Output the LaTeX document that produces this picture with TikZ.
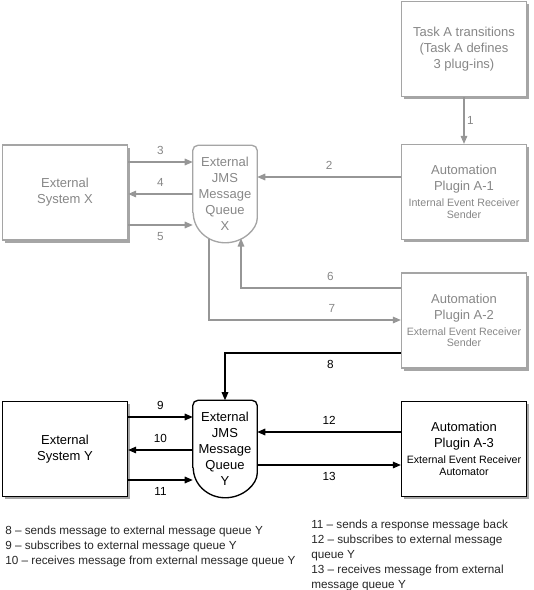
\documentclass[tikz,border=0pt]{standalone}
\usepackage{fontspec}
\setmainfont{Liberation Sans}
\usetikzlibrary{positioning,arrows.meta,shadows}

\definecolor{xline}{RGB}{165,165,165}
\definecolor{xtext}{RGB}{135,135,135}
\definecolor{xarrow}{RGB}{150,150,150}
\newcommand{\bigtext}{\fontsize{9.75}{12}\selectfont}
\newcommand{\subtext}{\fontsize{8}{9}\selectfont}
\newcommand{\notetext}{\fontsize{8.8}{11.25}\selectfont}

\begin{document}
\begin{tikzpicture}[x=0.75pt, y=-0.75pt, >={Triangle[length=6pt,width=5pt]},
	box/.style={draw=xline, fill=white, text=xtext, line width=1pt, minimum width=93.75pt, minimum height=71.25pt,
		inner sep=2pt, align=center, font=\bigtext,
		drop shadow={shadow xshift=2pt, shadow yshift=-2pt, fill=black!35, opacity=1}},
	darkbox/.style={box, draw=black, text=black},
	queue/.style={minimum width=48pt, minimum height=72.75pt, inner sep=0pt, align=center, font=\bigtext, text=xtext},
	darkqueue/.style={queue, text=black},
	queueline/.style={draw=xline, line width=1pt, rounded corners=4pt},
	flow/.style={->, draw=xarrow, line width=0.8pt},
	darkflow/.style={flow, draw=black},
	num/.style={font=\notetext, text=xtext, inner sep=2pt},
	darknum/.style={num, text=black},
	note/.style={font=\notetext, text=black!85, align=left, inner sep=0pt, anchor=north west}]
	\useasboundingbox (0,0) rectangle (533,590);

	% boxes
	\node[box](taskA) at (464,49){Task A transitions\\(Task A defines\\3 plug-ins)};
	\node[box](pluginA1) at (464,192){Automation\\Plugin A-1\\{\subtext Internal Event Receiver}\\[-3.5pt]{\subtext Sender}};
	\node[box](pluginA2) at (464,320.5){Automation\\Plugin A-2\\{\subtext External Event Receiver}\\[-3.5pt]{\subtext Sender}};
	\node[darkbox](pluginA3) at (464,449){Automation\\Plugin A-3\\{\subtext External Event Receiver}\\[-3.5pt]{\subtext Automator}};
	\node[box](sysX) at (65,192.5){External\\System X};
	\node[darkbox](sysY) at (65,449){External\\System Y};

	% message queues
	\node[queue](queueX) at (225,194){External\\JMS\\Message\\Queue\\X};
	\node[darkqueue](queueY) at (225,449){External\\JMS\\Message\\Queue\\Y};
	\draw[queueline] ([yshift=22.5pt]queueX.south west) -- (queueX.north west) -- (queueX.north east)
		-- ([yshift=22.5pt]queueX.south east) arc[start angle=0, end angle=-180, x radius=24pt, y radius=22.5pt];
	\draw[queueline, draw=black] ([yshift=22.5pt]queueY.south west) -- (queueY.north west) -- (queueY.north east)
		-- ([yshift=22.5pt]queueY.south east) arc[start angle=0, end angle=-180, x radius=24pt, y radius=22.5pt];
	\coordinate (qXin) at (241,238.5);
	\coordinate (qXout) at (209,238.5);

	% flows
	\draw[flow] (taskA) -- node[num, right]{1} (pluginA1);
	\draw[flow] (pluginA1.west |- 0,177) -- node[num, above=3pt]{2} (queueX.east |- 0,177);
	\draw[flow] (sysX.east |- 0,162) -- node[num, above=3pt]{3} (queueX.west |- 0,162);
	\draw[flow] (queueX.west |- 0,194) -- node[num, above=3pt]{4} (sysX.east |- 0,194);
	\draw[flow] (sysX.east |- 0,225) -- node[num, below=3pt]{5} (queueX.west |- 0,225);
	\draw[flow] (pluginA2.west |- 0,288) -| node[num, pos=0.22, above=3pt]{6} (qXin);
	\draw[flow] (qXout) |- node[num, pos=0.82, above=3pt]{7} (pluginA2.west |- 0,320);
	\draw[darkflow] (pluginA2.west |- 0,353) -| node[darknum, pos=0.2, below=3pt]{8} (queueY.north);
	\draw[darkflow] (sysY.east |- 0,417) -- node[darknum, above=3pt]{9} (queueY.west |- 0,417);
	\draw[darkflow] (queueY.west |- 0,450) -- node[darknum, above=3pt]{10} (sysY.east |- 0,450);
	\draw[darkflow] (sysY.east |- 0,480) -- node[darknum, below=3pt]{11} (queueY.west |- 0,480);
	\draw[darkflow] (pluginA3.west |- 0,432) -- node[darknum, above=3pt]{12} (queueY.east |- 0,432);
	\draw[darkflow] (queueY.east |- 0,465) -- node[darknum, below=3pt]{13} (pluginA3.west |- 0,465);

	% notes
	\node[note](notesL) at (5,525.5){8 – sends message to external message queue Y\\9 – subscribes to external message queue Y\\10 – receives message from external message queue Y};
	\node[note](notesR) at (311,519.5){11 – sends a response message back\\12 – subscribes to external message\\queue Y\\13 – receives message from external\\message queue Y};
\end{tikzpicture}
\end{document}
